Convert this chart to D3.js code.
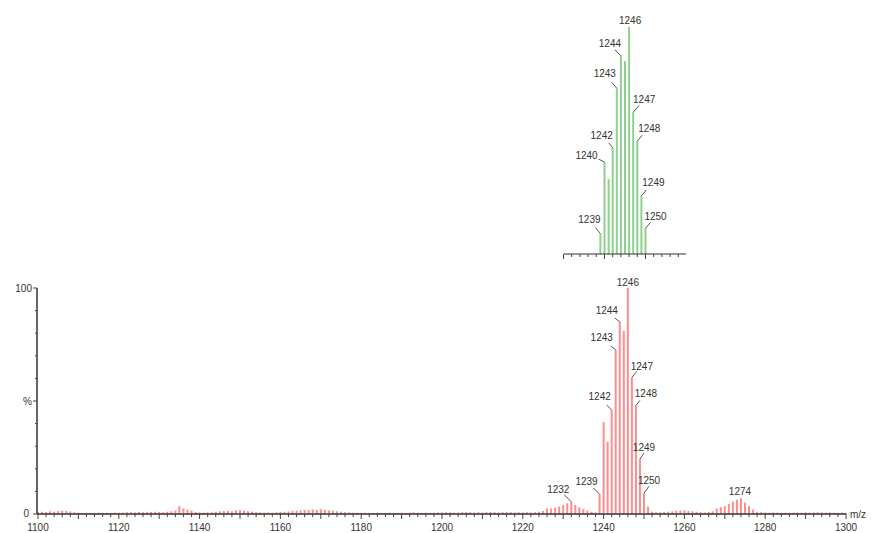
<!DOCTYPE html>
<html>
<head>
<meta charset="utf-8">
<script src="https://cdn.jsdelivr.net/npm/d3@7"></script>
<style>
  body { margin: 0; background: #fff; }
  svg text { font-family: "Liberation Sans", Arial, sans-serif; font-size: 10px; fill: #333; }
</style>
</head>
<body>
<div id="spectrum"></div>
<script>
// measured spectrum, one value (%) per m/z from 1100 to 1300
const mz_start = 1100;
const measured = [
  0.8,1.0,0.9,1.2,1.0,1.3,1.5,1.4,1.1,0.8,
  0.6,0.5,0.6,0.5,0.5,0.6,0.5,0.6,0.5,0.6,
  0.6,0.7,0.8,0.8,0.7,0.9,0.8,0.8,0.9,1.0,
  0.9,0.8,1.0,1.2,1.5,3.5,2.5,2.0,1.5,0.9,
  0.7,0.6,0.7,0.8,1.0,1.2,1.3,1.4,1.2,1.6,
  1.8,1.4,1.2,1.0,0.8,0.7,0.6,0.7,0.6,0.8,
  0.9,1.0,1.1,1.3,1.5,1.6,1.8,1.7,2.0,1.8,
  2.1,1.8,1.6,1.4,1.2,1.0,0.8,0.7,0.6,0.6,
  0.5,0.6,0.5,0.5,0.6,0.5,0.5,0.6,0.5,0.5,
  0.6,0.5,0.6,0.7,0.6,0.5,0.6,0.5,0.6,0.7,
  0.7,0.8,0.7,0.6,0.7,0.8,0.9,0.8,0.7,0.8,
  0.7,0.8,0.9,0.8,0.7,0.8,0.9,0.8,0.7,0.8,
  0.7,0.8,0.7,0.8,1.0,1.3,2.5,2.4,2.8,3.3,
  4.0,4.7,5.4,4.0,3.0,2.2,1.5,1.0,0.7,8.8,
  40.7,32,46,72.6,85,81,100,60.5,48,24.3,
  9.2,3.2,1.0,0.8,0.7,0.9,1.0,1.2,1.4,1.5,
  1.6,1.4,1.2,1.0,0.8,0.7,0.9,1.2,2.5,3.0,
  3.5,4.5,5.5,6.3,7.0,5.0,3.5,2.0,1.0,0.8,
  0.7,0.6,0.7,0.6,0.5,0.6,0.5,0.6,0.7,0.6,
  0.7,0.6,0.7,0.8,0.7,0.6,0.7,0.6,0.5,0.6,
  0.5
];
// simulated isotope pattern
const sim_mz = [1239,1240,1241,1242,1243,1244,1245,1246,1247,1248,1249,1250];
const sim_int = [9,40.5,33,46.8,73,87.3,85,100,62.4,49.7,25.6,11.3];

const measured_labels = [1232,1239,1242,1243,1244,1246,1247,1248,1249,1250,1274];
const sim_labels = [1239,1240,1242,1243,1244,1246,1247,1248,1249,1250];
const x_ticks = [1100,1120,1140,1160,1180,1200,1220,1240,1260,1280,1300];

// label placement: [label dx, label dy, leader dx, leader dy] from the bar top
const meas_place = {
  1232:[-13,-12,-7,-7], 1239:[-13,-13,-6,-6], 1242:[-12,-14,-5,-5], 1243:[-14,-12,-5,-4],
  1244:[-13,-11,-5,-4], 1246:[0,-6,0,0], 1247:[10,-11,5,-6], 1248:[10,-12,4,-5],
  1249:[4,-12,4,-6], 1250:[5,-13,5,-7], 1274:[-1,-7,0,0]
};
const sim_place = {
  1239:[-11,-14,-5,-6], 1240:[-18,-7,-6,-3], 1242:[-11,-12,-4,-5], 1243:[-12,-15,-5,-6],
  1244:[-11,-12,-6,-6], 1246:[1,-7,0,0], 1247:[11,-13,6,-7], 1248:[12,-13,5,-6],
  1249:[12,-13,5,-6], 1250:[10,-12,5,-6]
};

const svg = d3.select("#spectrum").append("svg")
    .attr("width", 871).attr("height", 533);

// main panel
const x = d3.scaleLinear().domain([1100, 1300]).range([38, 846]);
const y = d3.scaleLinear().domain([0, 100]).range([514, 288]);

const meas = measured.map((v, i) => ({mz: mz_start + i, v: v}));

svg.append("g").selectAll("rect")
  .data(meas)
  .join("rect")
    .attr("x", d => x(d.mz) - 1)
    .attr("width", 2)
    .attr("y", d => y(d.v))
    .attr("height", d => y(0) - y(d.v))
    .attr("fill", "#ff8c8c");

// x axis
const xg = svg.append("g").attr("transform", `translate(0,${y(0)})`);
xg.append("line").attr("x1", 37).attr("x2", 846).attr("stroke", "#333").attr("stroke-width", 1.5);
xg.selectAll(".tk")
  .data(d3.range(1100, 1301, 2))
  .join("line")
    .attr("x1", d => x(d)).attr("x2", d => x(d))
    .attr("y1", 0).attr("y2", d => d % 10 === 0 ? 5 : 3)
    .attr("stroke", "#444");
xg.selectAll("text")
  .data(x_ticks)
  .join("text")
    .attr("x", d => x(d)).attr("y", 17)
    .attr("text-anchor", "middle")
    .text(d => d);
svg.append("text").attr("x", 850).attr("y", 518).text("m/z");

// y axis
const yg = svg.append("g").attr("transform", "translate(37,0)");
yg.append("line").attr("y1", y(100)).attr("y2", y(0)).attr("stroke", "#333").attr("stroke-width", 1.5);
yg.selectAll("line.tk")
  .data(d3.range(0, 101, 10))
  .join("line")
    .attr("class", "tk")
    .attr("y1", d => y(d)).attr("y2", d => y(d))
    .attr("x1", d => d % 50 === 0 ? -4 : -2).attr("x2", 0)
    .attr("stroke", "#444");
yg.append("text").attr("x", -5).attr("y", y(100) + 4).attr("text-anchor", "end").text("100");
yg.append("text").attr("x", -5).attr("y", y(50) + 4).attr("text-anchor", "end").text("%");
yg.append("text").attr("x", -8).attr("y", y(0) + 3).attr("text-anchor", "end").text("0");

function annotate(g, list, place, xs, ys, lookup) {
  list.forEach(mz => {
    const p = place[mz];
    const bx = xs(mz), by = ys(lookup(mz));
    if (p[2] !== 0 || p[3] !== 0) {
      g.append("line")
        .attr("x1", bx).attr("y1", by)
        .attr("x2", bx + p[2]).attr("y2", by + p[3])
        .attr("stroke", "#555");
    }
    g.append("text")
      .attr("x", bx + p[0]).attr("y", by + p[1] + 3.5)
      .attr("text-anchor", "middle")
      .text(mz);
  });
}
annotate(svg.append("g"), measured_labels, meas_place, x, y, mz => measured[mz - mz_start]);

// inset: simulated pattern
const xi = d3.scaleLinear().domain([1230, 1260]).range([563.5, 686.5]);
const yi = d3.scaleLinear().domain([0, 100]).range([254, 27]);

svg.append("g").selectAll("rect")
  .data(sim_mz)
  .join("rect")
    .attr("x", d => xi(d) - 1)
    .attr("width", 2)
    .attr("y", (d, i) => yi(sim_int[i]))
    .attr("height", (d, i) => yi(0) - yi(sim_int[i]))
    .attr("fill", "#8ed18e");

const ig = svg.append("g").attr("transform", `translate(0,${yi(0)})`);
ig.append("line").attr("x1", 564).attr("x2", 686).attr("stroke", "#333").attr("stroke-width", 1.2);
ig.selectAll(".tk")
  .data(d3.range(1230, 1259, 2))
  .join("line")
    .attr("x1", d => xi(d)).attr("x2", d => xi(d))
    .attr("y1", 0).attr("y2", d => d % 10 === 0 ? 5 : 3)
    .attr("stroke", "#444");

annotate(svg.append("g"), sim_labels, sim_place, xi, yi, mz => sim_int[sim_mz.indexOf(mz)]);
</script>
</body>
</html>
